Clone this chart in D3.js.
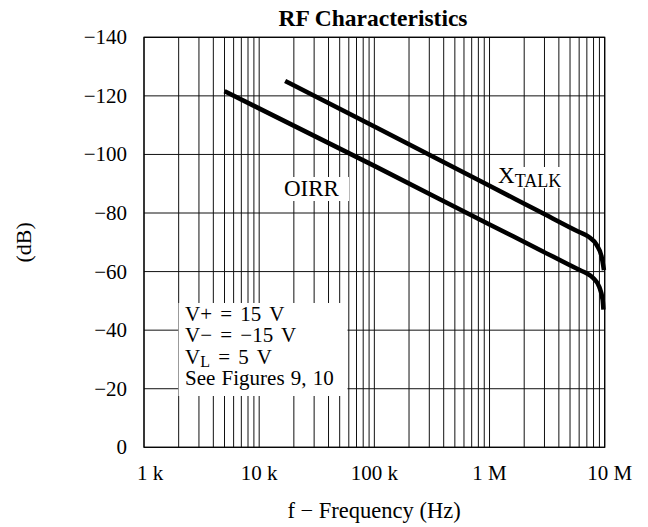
<!DOCTYPE html>
<html>
<head>
<meta charset="utf-8">
<script src="https://cdn.jsdelivr.net/npm/d3@7"></script>
<style>
  body { margin: 0; background: #fff; }
  text { font-family: "Liberation Serif", "DejaVu Serif", serif; fill: #000; }
</style>
</head>
<body>
<script>
var width = 648,
    height = 527;

// tick values / labels
var xTicks = [1e3, 1e4, 1e5, 1e6, 1e7];
var xTickLabels = ["1 k", "10 k", "100 k", "1 M", "10 M"];
var yTicks = [0, -20, -40, -60, -80, -100, -120, -140];

// OIRR curve (Hz, dB)
var oirrFreq = [5e3, 1e5, 1e6, 2.74e6, 6.0e6, 6.97e6, 7.94e6, 8.96e6, 9.6e6, 9.75e6];
var oirrDb   = [-121.6, -96.1, -76.1, -67.4, -60.6, -59.4, -57.8, -54.8, -50.3, -47];

// crosstalk curve (Hz, dB)
var xtalkFreq = [1.68e4, 1e5, 1e6, 2.74e6, 6.0e6, 7.2e6, 8.51e6, 9.4e6, 9.85e6];
var xtalkDb   = [-125.1, -109.5, -89.3, -80.4, -73.5, -72.0, -69.1, -65.1, -60.5];

var legendLines = ["V+ = 15 V", "V\u2212 = \u221215 V", "V_L = 5 V", "See Figures 9, 10"];

var pLeft = 144, pRight = 604.7, pTop = 37.3, pBottom = 447.3;

var svg = d3.select('body').append('svg')
    .attr('width', width)
    .attr('height', height);

var x = d3.scaleLog().domain([1e3, 1e7]).range([pLeft, pRight]);
var y = d3.scaleLinear().domain([0, -140]).range([pBottom, pTop]);

/* vertical grid: every 1..9 in each decade */
var vgrid = [];
for (var d = 1e3; d < 1e7; d *= 10) {
    for (var k = 1; k < 10; k++) vgrid.push(d * k);
}
vgrid.push(1e7);

var grid = svg.append('g').attr('stroke', '#111').attr('stroke-width', 1);
grid.selectAll('line.v')
    .data(vgrid)
    .enter().append('line')
    .attr('x1', function(f) { return x(f); })
    .attr('x2', function(f) { return x(f); })
    .attr('y1', pTop).attr('y2', pBottom);
grid.selectAll('line.h')
    .data(yTicks)
    .enter().append('line')
    .attr('x1', pLeft).attr('x2', pRight)
    .attr('y1', function(v) { return y(v); })
    .attr('y2', function(v) { return y(v); });

svg.append('rect')
    .attr('x', pLeft).attr('y', pTop)
    .attr('width', pRight - pLeft).attr('height', pBottom - pTop)
    .attr('fill', 'none').attr('stroke', '#000').attr('stroke-width', 1.2);

/* white boxes behind labels */
svg.append('rect').attr('x', 178.5).attr('y', 303).attr('width', 169).attr('height', 93).attr('fill', '#fff');
svg.append('rect').attr('x', 280).attr('y', 177).attr('width', 69).attr('height', 24).attr('fill', '#fff');
svg.append('rect').attr('x', 496).attr('y', 167).attr('width', 68).attr('height', 21).attr('fill', '#fff');

/* curves */
var line = d3.line()
    .x(function(p) { return x(p[0]); })
    .y(function(p) { return y(p[1]); })
    .curve(d3.curveMonotoneX);

svg.append('path')
    .attr('d', line(d3.zip(oirrFreq, oirrDb)))
    .attr('fill', 'none').attr('stroke', '#000').attr('stroke-width', 4.5);
svg.append('path')
    .attr('d', line(d3.zip(xtalkFreq, xtalkDb)))
    .attr('fill', 'none').attr('stroke', '#000').attr('stroke-width', 4.5);

/* axes labels */
svg.selectAll('text.yt')
    .data(yTicks)
    .enter().append('text')
    .attr('x', 127)
    .attr('y', function(v) { return y(v) + 7; })
    .attr('text-anchor', 'end')
    .style('font-size', '21px')
    .text(function(v) { return v === 0 ? "0" : "\u2212" + Math.abs(v); });

svg.selectAll('text.xt')
    .data(xTicks)
    .enter().append('text')
    .attr('x', function(f, i) { return x(f) + (i === 0 ? 6 : (i === 4 ? 5 : 0)); })
    .attr('y', 480)
    .attr('text-anchor', 'middle')
    .style('font-size', '21px')
    .text(function(f, i) { return xTickLabels[i]; });

svg.append('text')
    .attr('x', 373).attr('y', 26)
    .attr('text-anchor', 'middle')
    .style('font-size', '23.5px').style('font-weight', 'bold')
    .text('RF Characteristics');

svg.append('text')
    .attr('x', 374).attr('y', 518)
    .attr('text-anchor', 'middle')
    .style('font-size', '22.5px')
    .text('f \u2212 Frequency (Hz)');

svg.append('text')
    .attr('transform', 'translate(31,' + ((pTop + pBottom) / 2) + ') rotate(-90)')
    .attr('text-anchor', 'middle')
    .style('font-size', '22px')
    .text('(dB)');

svg.append('text')
    .attr('x', 284).attr('y', 196)
    .style('font-size', '23px')
    .text('OIRR');

var xt = svg.append('text')
    .attr('x', 498).attr('y', 183)
    .style('font-size', '23px');
xt.append('tspan').text('X');
xt.append('tspan').attr('dy', 4).style('font-size', '18px').text('TALK');

/* conditions legend */
var leg = svg.append('g');
legendLines.forEach(function(s, i) {
    var t = leg.append('text')
        .attr('x', 185).attr('y', 321 + i * 21.4)
        .style('font-size', '21px')
        .style('word-spacing', i < 3 ? '3px' : '1px');
    if (s.indexOf('_') >= 0) {
        var parts = s.split('_');
        t.append('tspan').text(parts[0]);
        t.append('tspan').attr('dy', 3).style('font-size', '16px').text(parts[1].charAt(0));
        t.append('tspan').attr('dy', -3).text(parts[1].slice(1));
    } else {
        t.text(s);
    }
});
</script>
</body>
</html>
